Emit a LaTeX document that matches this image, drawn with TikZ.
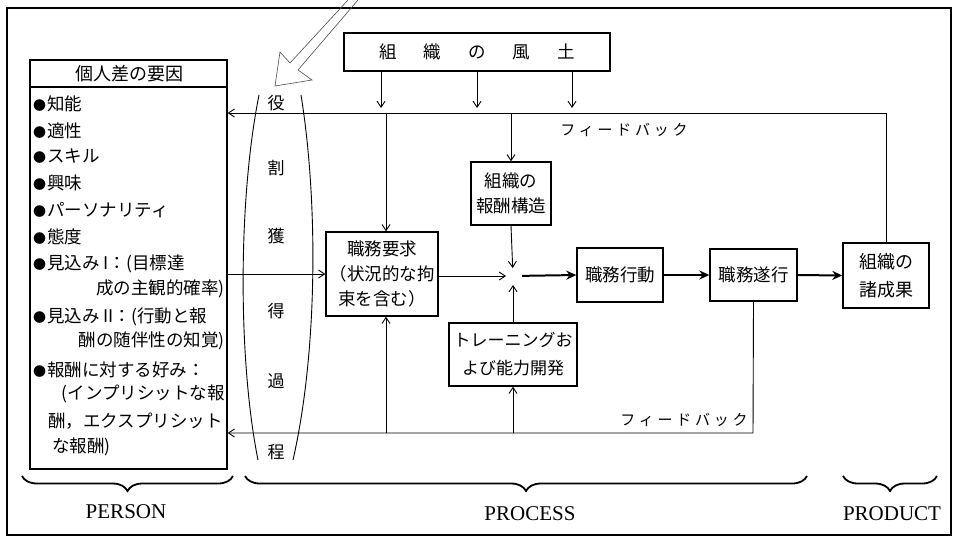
\documentclass[tikz,border=0pt]{standalone}
\usepackage{fontspec}
\setmainfont{Liberation Serif}
\newfontfamily\jp{Noto Sans CJK JP}
\usetikzlibrary{arrows.meta,decorations.pathreplacing}
\newcommand\bul{{\fontsize{13}{13}\selectfont●}\hspace{1pt}}
\tikzset{
  jpf/.style={font=\jp\fontsize{17.5}{25}\selectfont},
  box/.style={draw, line width=1.4pt, inner sep=0pt, align=center, jpf},
  arr/.style={line width=0.9pt, -{Straight Barb[length=6pt,width=8pt,line width=0.9pt]}},
  thk/.style={line width=2pt, -{Stealth[length=10pt,width=9pt]}},
  item/.style={inner sep=0pt, jpf},
  lensch/.style={inner sep=0pt, font=\jp\fontsize{17}{20}\selectfont},
  fb/.style={inner sep=0pt, font=\jp\fontsize{15}{18}\selectfont\addfontfeature{LetterSpace=25}},
  brc/.style={decorate, decoration={brace, mirror, amplitude=15pt}, line width=1.8pt},
  lbl/.style={inner sep=0pt, font=\fontsize{21}{24}\selectfont},
}
\begin{document}
\begin{tikzpicture}[x=1pt,y=-1pt]
\useasboundingbox (0,0) rectangle (957,539);
% outer frame
\draw[line width=1.2pt] (7,8) rectangle (951,535);
% hollow diagonal arrow
\draw[line width=0.6pt, black!70] (348,0) -- (290,63) -- (280,52) -- (275,86) -- (312,80) -- (298,70) -- (358,0);

% boxes
\node[box, line width=2.5pt, minimum width=266pt, minimum height=38pt] (fudo) at (477,52)
  {組\hspace{27pt}織\hspace{27pt}の\hspace{27pt}風\hspace{27pt}土};
\node[draw, line width=1.4pt, minimum width=197pt, minimum height=409pt, inner sep=0pt] (person) at (128.5,264.5) {};
\draw[line width=1.2pt] (person.north west |- 0,87) coordinate (hl) -- (person.north east |- hl);
\node[item, font=\jp\fontsize{18}{20}\selectfont] (head) at (129,74) {個人差の要因};
\node[box, minimum width=80pt, minimum height=63pt] (hoshu) at (511,193.5) {組織の\\報酬構造};
\node[box, minimum width=112pt, minimum height=84pt] (yokyu) at (382,274) {職務要求\\（状況的な拘\\束を含む）};
\node[box, minimum width=128pt, minimum height=63pt, font=\jp\fontsize{17}{28}\selectfont] (train) at (513,354.5) {トレーニングお\\よび能力開発};
\node[box, minimum width=86pt, minimum height=54pt] (kodo) at (620,275) {職務行動};
\node[box, minimum width=87pt, minimum height=52pt] (suiko) at (753.5,275) {職務遂行};
\node[box, minimum width=86pt, minimum height=65pt, font=\jp\fontsize{18}{28}\selectfont] (seika) at (886,275.5) {組織の\\諸成果};

% list items
\node[item, anchor=west] (i1) at (33,104) {\bul 知能};
\node[item, anchor=west] (i2) at (33,131) {\bul 適性};
\node[item, anchor=west] (i3) at (33,156) {\bul スキル};
\node[item, anchor=west] (i4) at (33,183) {\bul 興味};
\node[item, anchor=west] (i5) at (33,210) {\bul パーソナリティ};
\node[item, anchor=west] (i6) at (33,237) {\bul 態度};
\node[item, anchor=west] (i7) at (33,264) {\bul 見込み I：(目標達};
\node[item, anchor=east] (i8) at (225,289) {成の主観的確率)};
\node[item, anchor=west] (i9) at (33,317) {\bul 見込み II：(行動と報};
\node[item, anchor=east] (i10) at (225,341) {酬の随伴性の知覚)};
\node[item, anchor=west] (i11) at (33,370) {\bul 報酬に対する好み：};
\node[item, anchor=east] (i12) at (225,394) {(インプリシットな報};
\node[item, anchor=east] (i13) at (223,421) {酬，エクスプリシット};
\node[item, anchor=west] (i14) at (52,447) {な報酬)};

% lens
\draw[line width=0.9pt] (259,95) .. controls (238,200) and (238,360) .. (258,460);
\draw[line width=0.9pt] (301,95) .. controls (318,200) and (318,350) .. (293,460);
\node[lensch] (r1) at (276,103) {役};
\node[lensch] (r2) at (276,168) {割};
\node[lensch] (r3) at (276,236) {獲};
\node[lensch] (r4) at (276,311) {得};
\node[lensch] (r5) at (276,381) {過};
\node[lensch] (r6) at (276,452) {程};

% arrows from fudo
\coordinate (a1) at (381,108);
\coordinate (a2) at (477,108);
\coordinate (a3) at (572,108);
\draw[arr] (fudo.south -| a1) -- (a1);
\draw[arr] (fudo.south -| a2) -- (a2);
\draw[arr] (fudo.south -| a3) -- (a3);

% top feedback
\coordinate (fbT) at (886,113);
\draw[arr] (seika.north) -- (fbT) -- (person.east |- fbT);
\node[fb] (fbl1) at (624,130) {フィードバック};
\draw[arr] ([xshift=4pt]yokyu.north |- fbT) -- ([xshift=4pt]yokyu.north);
\draw[arr] (hoshu.north |- fbT) -- (hoshu.north);

% into job demand
\draw[arr] (person.east |- yokyu.west) -- (yokyu.west);

% junction
\coordinate (J) at (513,276);
\draw[arr, shorten >=7pt] (yokyu.east |- J) -- (J);
\draw[arr, shorten >=8pt] (hoshu.south) -- (J);
\draw[arr, shorten >=9pt] (train.north) -- (J);
\draw[thk, shorten <=9pt] (J) -- (kodo.west);
\draw[thk] (kodo.east) -- (suiko.west);
\draw[thk] (suiko.east) -- (seika.west);

% bottom feedback
\coordinate (fbB) at (753,433);
\draw[arr] (suiko.south) -- (fbB) -- (person.east |- fbB);
\node[fb] (fbl2) at (684,420) {フィードバック};
\draw[arr] ([xshift=4pt]yokyu.south |- fbB) -- ([xshift=4pt]yokyu.south);
\draw[arr] (train.south |- fbB) -- (train.south);

% braces
\coordinate (b1) at (22,476); \coordinate (b2) at (233,476);
\coordinate (b3) at (245,476); \coordinate (b4) at (807,476);
\coordinate (b5) at (843,476); \coordinate (b6) at (937,476);
\draw[brc] (b1) -- (b2);
\draw[brc] (b3) -- (b4);
\draw[brc] (b5) -- (b6);
\node[lbl] (pe) at (126,512) {PERSON};
\node[lbl] (pr) at (530,514) {PROCESS};
\node[lbl] (pd) at (892,514) {PRODUCT};
\end{tikzpicture}
\end{document}
